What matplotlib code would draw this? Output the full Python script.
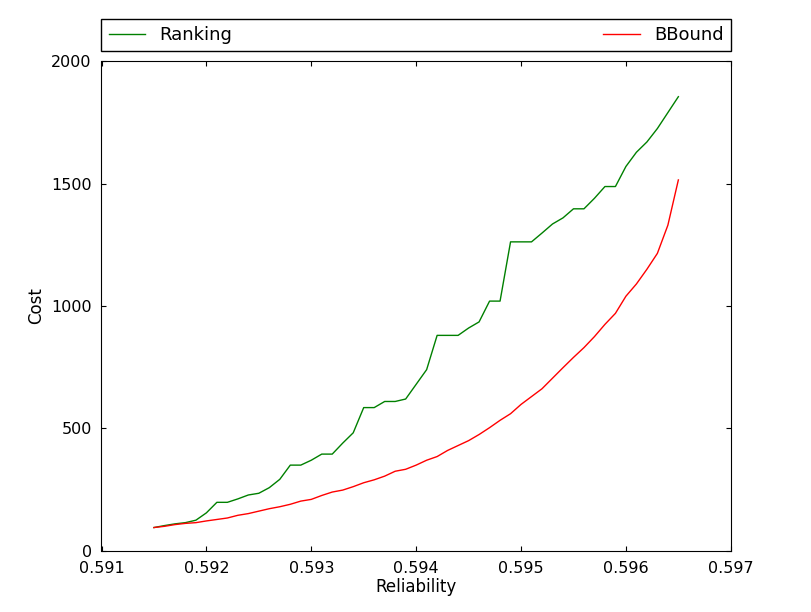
import matplotlib
matplotlib.use("Agg")
import matplotlib.pyplot as plt
import numpy as np

reliability = [0.5915 + 0.0001*i for i in range(51)]
ranking = [95,103,110,115,125,155,198,198,212,228,235,258,292,350,350,370,395,395,440,482,
           585,585,610,610,620,680,740,880,880,880,910,935,1020,1020,1262,1262,1262,1298,1335,1360,
           1397,1397,1440,1488,1488,1570,1628,1670,1725,1790,1855]
bbound = [95,100,107,112,115,122,128,134,145,152,162,172,180,190,203,210,226,240,248,262,
          278,290,305,325,333,350,370,385,410,430,450,475,503,533,560,598,630,662,705,748,
          790,830,875,925,970,1040,1090,1150,1215,1330,1515]

fig = plt.figure(figsize=(8.12, 6.12), dpi=100)
ax = fig.add_axes([0.125, 0.1, 0.775, 0.8])
ax.plot(reliability, ranking, color='green', lw=1, label='Ranking')
ax.plot(reliability, bbound, color='red', lw=1, label='BBound')
ax.set_xlim(0.591, 0.597)
ax.set_ylim(0, 2000)
ax.set_xticks([0.591, 0.592, 0.593, 0.594, 0.595, 0.596, 0.597])
ax.set_xticklabels(['0.591', '0.592', '0.593', '0.594', '0.595', '0.596', '0.597'])
ax.set_yticks([0, 500, 1000, 1500, 2000])
ax.tick_params(direction='in', top=True, right=True, labelsize=11.5, pad=7)
ax.set_xlabel('Reliability', fontsize=12, labelpad=2)
ax.set_ylabel('Cost', fontsize=12)
ax.legend(bbox_to_anchor=(0., 1.02, 1., .102), loc='lower left', ncol=2, mode='expand',
          borderaxespad=0., fancybox=False, fontsize=13, edgecolor='black', framealpha=1,
          borderpad=0.4)
fig.savefig('out.png')
